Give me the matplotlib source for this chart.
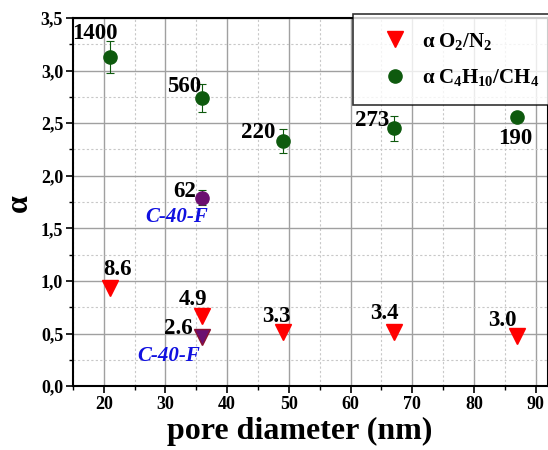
import matplotlib
matplotlib.use('Agg')
import matplotlib.pyplot as plt
from matplotlib.ticker import MultipleLocator, FuncFormatter

plt.rcParams['font.family'] = 'Liberation Serif'
plt.rcParams['font.weight'] = 'bold'
plt.rcParams['mathtext.fontset'] = 'custom'
plt.rcParams['mathtext.rm'] = 'Liberation Serif:bold'
plt.rcParams['mathtext.it'] = 'Liberation Serif:bold:italic'
plt.rcParams['mathtext.bf'] = 'Liberation Serif:bold'

# alpha C4H10/CH4 (green), with error bars
pore_c4 = [21, 36, 49, 67, 87]
alpha_c4 = [3.13, 2.74, 2.33, 2.45, 2.56]
err_c4 = [0.15, 0.13, 0.11, 0.12, 0.04]
lab_c4 = ['1400', '560', '220', '273', '190']

# alpha O2/N2 (red)
pore_o2 = [21, 36, 49, 67, 87]
alpha_o2 = [0.93, 0.67, 0.51, 0.51, 0.48]
lab_o2 = ['8.6', '4.9', '3.3', '3.4', '3.0']

# C-40-F sample (purple)
pore_f = [36]
alpha_f_c4 = [1.79]
err_f_c4 = [0.07]
alpha_f_o2 = [0.47]
lab_f_c4 = ['62']
lab_f_o2 = ['2.6']

fig = plt.figure(figsize=(5.48, 4.5), dpi=100)
ax = fig.add_axes([0.133, 0.142, 0.867, 0.818])

ax.set_xlim(15, 92)
ax.set_ylim(0, 3.5)
ax.xaxis.set_major_locator(MultipleLocator(10))
ax.xaxis.set_minor_locator(MultipleLocator(5))
ax.yaxis.set_major_locator(MultipleLocator(0.5))
ax.yaxis.set_minor_locator(MultipleLocator(0.25))
ax.yaxis.set_major_formatter(FuncFormatter(lambda v, p: ('%.1f' % v).replace('.', ',')))
ax.grid(which='major', color='#a0a0a0', lw=1.0, ls='-')
ax.grid(which='minor', color='#c8c8c8', lw=0.8, ls=(0, (2, 2)))
ax.set_axisbelow(True)
ax.tick_params(which='major', direction='out', length=5, width=1.2, labelsize=13, pad=2)
ax.tick_params(which='minor', direction='out', length=3, width=1.0)
for s in ax.spines.values():
    s.set_linewidth(1.5)

green = '#0e5a0e'
purple = '#6b0f70'

ax.errorbar(pore_c4, alpha_c4, yerr=err_c4, fmt='none', ecolor=green,
            elinewidth=0.8, capsize=3, capthick=0.8, zorder=2)
ax.errorbar(pore_f, alpha_f_c4, yerr=err_f_c4, fmt='none', ecolor=green,
            elinewidth=0.8, capsize=3, capthick=0.8, zorder=2)
ax.plot(pore_o2, alpha_o2, 'v', color='red', ms=11, ls='none',
        label=r'$\mathrm{\alpha\;O_2/N_2}$', zorder=3)
ax.plot(pore_c4, alpha_c4, 'o', color=green, ms=9.5, ls='none',
        label=r'$\mathrm{\alpha\;C_4H_{10}/CH_4}$', zorder=3)
ax.plot(pore_f, alpha_f_c4, 'o', color=purple, ms=9.5, zorder=3)
ax.plot(pore_f, alpha_f_o2, 'v', color=purple, mec='#8a1030', ms=11, zorder=3)

# label offsets in pixels
off_c4 = [(-15, 23), (-18, 11), (-24, 9), (-22, 8), (-2, -22)]
off_o2 = [(8, 19), (-9, 16), (-6, 16), (-9, 19), (-15, 15)]
for x, y, t, o in zip(pore_c4, alpha_c4, lab_c4, off_c4):
    ax.annotate(t, (x, y), xytext=o, textcoords='offset pixels',
                ha='center', va='center', fontsize=16.5, fontweight='bold')
for x, y, t, o in zip(pore_o2, alpha_o2, lab_o2, off_o2):
    ax.annotate(t, (x, y), xytext=o, textcoords='offset pixels',
                ha='center', va='center', fontsize=16.5, fontweight='bold')
ax.annotate(lab_f_c4[0], (pore_f[0], alpha_f_c4[0]), xytext=(-18, 6),
            textcoords='offset pixels', ha='center', va='center',
            fontsize=16.5, fontweight='bold')
ax.annotate(lab_f_o2[0], (pore_f[0], alpha_f_o2[0]), xytext=(-24, 8),
            textcoords='offset pixels', ha='center', va='center',
            fontsize=16.5, fontweight='bold')
ax.annotate('C-40-F', (pore_f[0], alpha_f_c4[0]), xytext=(-26, -19),
            textcoords='offset pixels', ha='center', va='center',
            fontsize=15, fontweight='bold', style='italic', color='#1010e0')
ax.annotate('C-40-F', (pore_f[0], alpha_f_o2[0]), xytext=(-34, -19),
            textcoords='offset pixels', ha='center', va='center',
            fontsize=15, fontweight='bold', style='italic', color='#1010e0')

ax.set_xlabel('pore diameter (nm)', fontsize=23, fontweight='bold')
ax.xaxis.set_label_coords(0.478, -0.084)
ax.set_ylabel(r'$\mathrm{\alpha}$', fontsize=23, ha='center', va='center')
ax.yaxis.set_label_coords(-0.11, 0.495)

leg = fig.legend(loc='upper left', bbox_to_anchor=(353 / 548, 1 - 14 / 450, 0.4, 0),
                 mode='expand', fontsize=15, frameon=True, fancybox=False,
                 edgecolor='black', borderpad=0.8, labelspacing=0.75,
                 handlelength=2.4, handletextpad=0.1, borderaxespad=0)
leg.get_frame().set_linewidth(1.2)

fig.savefig('out.png', dpi=100)
